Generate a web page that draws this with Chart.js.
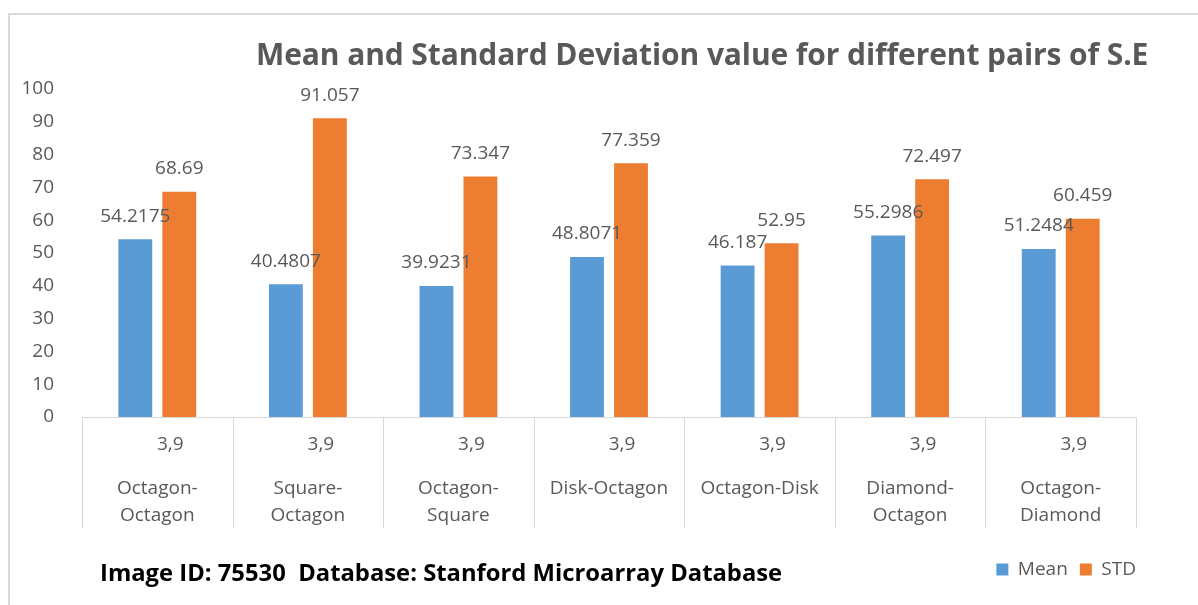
<!DOCTYPE html>
<html>
<head>
<meta charset="utf-8">
<script src="https://cdn.jsdelivr.net/npm/chart.js@4.4.1/dist/chart.umd.min.js"></script>
<style>
  html, body { margin: 0; padding: 0; background: #ffffff; }
  #wrap { position: relative; width: 1198px; height: 605px; overflow: hidden; }
  #frame { position: absolute; left: 8px; top: 13px; width: 1300px; height: 700px;
           border-left: 2px solid #d9d9d9; border-top: 2px solid #d9d9d9; }
  #title { position: absolute; left: 256px; top: 33px; font-family: "Open Sans", sans-serif;
           font-weight: bold; font-size: 30px; color: #595959; white-space: pre; letter-spacing: -0.1px; }
  #footer { position: absolute; left: 100px; top: 556px; font-family: "Open Sans", sans-serif;
            font-weight: bold; font-size: 23.8px; color: #000000; white-space: pre; }
  canvas { position: absolute; left: 0; top: 0; }
</style>
</head>
<body>
<div id="wrap">
  <div id="frame"></div>
  <canvas id="c" width="1198" height="605"></canvas>
  <div id="title">Mean and Standard Deviation value for different pairs of S.E</div>
  <div id="footer">Image ID: 75530  Database: Stanford Microarray Database</div>
</div>
<script>
const categories = [
  ['Octagon-', 'Octagon'],
  ['Square-', 'Octagon'],
  ['Octagon-', 'Square'],
  'Disk-Octagon',
  'Octagon-Disk',
  ['Diamond-', 'Octagon'],
  ['Octagon-', 'Diamond']
];
const subLabels = ['3,9', '3,9', '3,9', '3,9', '3,9', '3,9', '3,9'];
const meanValues = [54.2175, 40.4807, 39.9231, 48.8071, 46.187, 55.2986, 51.2484];
const stdValues = [68.69, 91.057, 73.347, 77.359, 52.95, 72.497, 60.459];
const yTicks = [0, 10, 20, 30, 40, 50, 60, 70, 80, 90, 100];

const GRAY = '#595959';
const FONT = '"Open Sans", sans-serif';

const extrasPlugin = {
  id: 'extras',
  afterDatasetsDraw(chart) {
    const ctx = chart.ctx;
    ctx.save();
    ctx.font = '19px ' + FONT;
    ctx.fillStyle = GRAY;
    ctx.textAlign = 'center';
    ctx.textBaseline = 'middle';
    chart.data.datasets.forEach((ds, di) => {
      const meta = chart.getDatasetMeta(di);
      meta.data.forEach((el, i) => {
        ctx.fillText(String(ds.data[i]), el.x, el.y - 23);
      });
    });
    ctx.restore();
  },
  afterDraw(chart) {
    const ctx = chart.ctx;
    const xs = chart.scales.x;
    const area = chart.chartArea;
    const n = chart.data.labels.length;
    const w = (area.right - area.left) / n;
    ctx.save();
    ctx.strokeStyle = '#d9d9d9';
    ctx.lineWidth = 1;
    for (let i = 0; i <= n; i++) {
      const x = Math.round(area.left + i * w) + 0.5;
      ctx.beginPath();
      ctx.moveTo(x, area.bottom);
      ctx.lineTo(x, area.bottom + 111);
      ctx.stroke();
    }
    ctx.font = '19px ' + FONT;
    ctx.fillStyle = GRAY;
    ctx.textAlign = 'center';
    ctx.textBaseline = 'middle';
    subLabels.forEach((s, i) => {
      ctx.fillText(s, xs.getPixelForValue(i) + 13, area.bottom + 28);
    });
    ctx.restore();
  }
};

new Chart(document.getElementById('c'), {
  type: 'bar',
  data: {
    labels: categories,
    datasets: [
      { label: 'Mean', data: meanValues, backgroundColor: '#5B9BD5',
        categoryPercentage: 0.584, barPercentage: 0.77 },
      { label: 'STD', data: stdValues, backgroundColor: '#ED7D31',
        categoryPercentage: 0.584, barPercentage: 0.77 }
    ]
  },
  options: {
    responsive: false,
    animation: false,
    layout: { padding: { left: 0, right: 50, top: 89, bottom: 16 } },
    plugins: {
      title: { display: false },
      tooltip: { enabled: false },
      legend: {
        position: 'bottom',
        align: 'end',
        labels: {
          boxWidth: 12, boxHeight: 12, padding: 12,
          color: GRAY, font: { family: FONT, size: 19 }
        }
      }
    },
    scales: {
      x: {
        grid: { display: false },
        border: { display: true, color: '#d9d9d9', width: 1 },
        ticks: {
          color: GRAY, padding: 50, maxRotation: 0, autoSkip: false,
          font: { family: FONT, size: 19, lineHeight: 1.42 }
        },
        afterFit(scale) { scale.height = 131; }
      },
      y: {
        min: 0, max: 100,
        afterBuildTicks(scale) { scale.ticks = yTicks.map(v => ({ value: v })); },
        grid: { display: false },
        border: { display: false },
        ticks: { color: GRAY, padding: 20, font: { family: FONT, size: 19 } },
        afterFit(scale) { scale.width = 82; }
      },
      yRight: {
        type: 'linear',
        position: 'right',
        display: true,
        grid: { display: false },
        border: { display: false },
        ticks: { display: false },
        afterFit(scale) { scale.width = 12; }
      }
    }
  },
  plugins: [extrasPlugin]
});
</script>
</body>
</html>
